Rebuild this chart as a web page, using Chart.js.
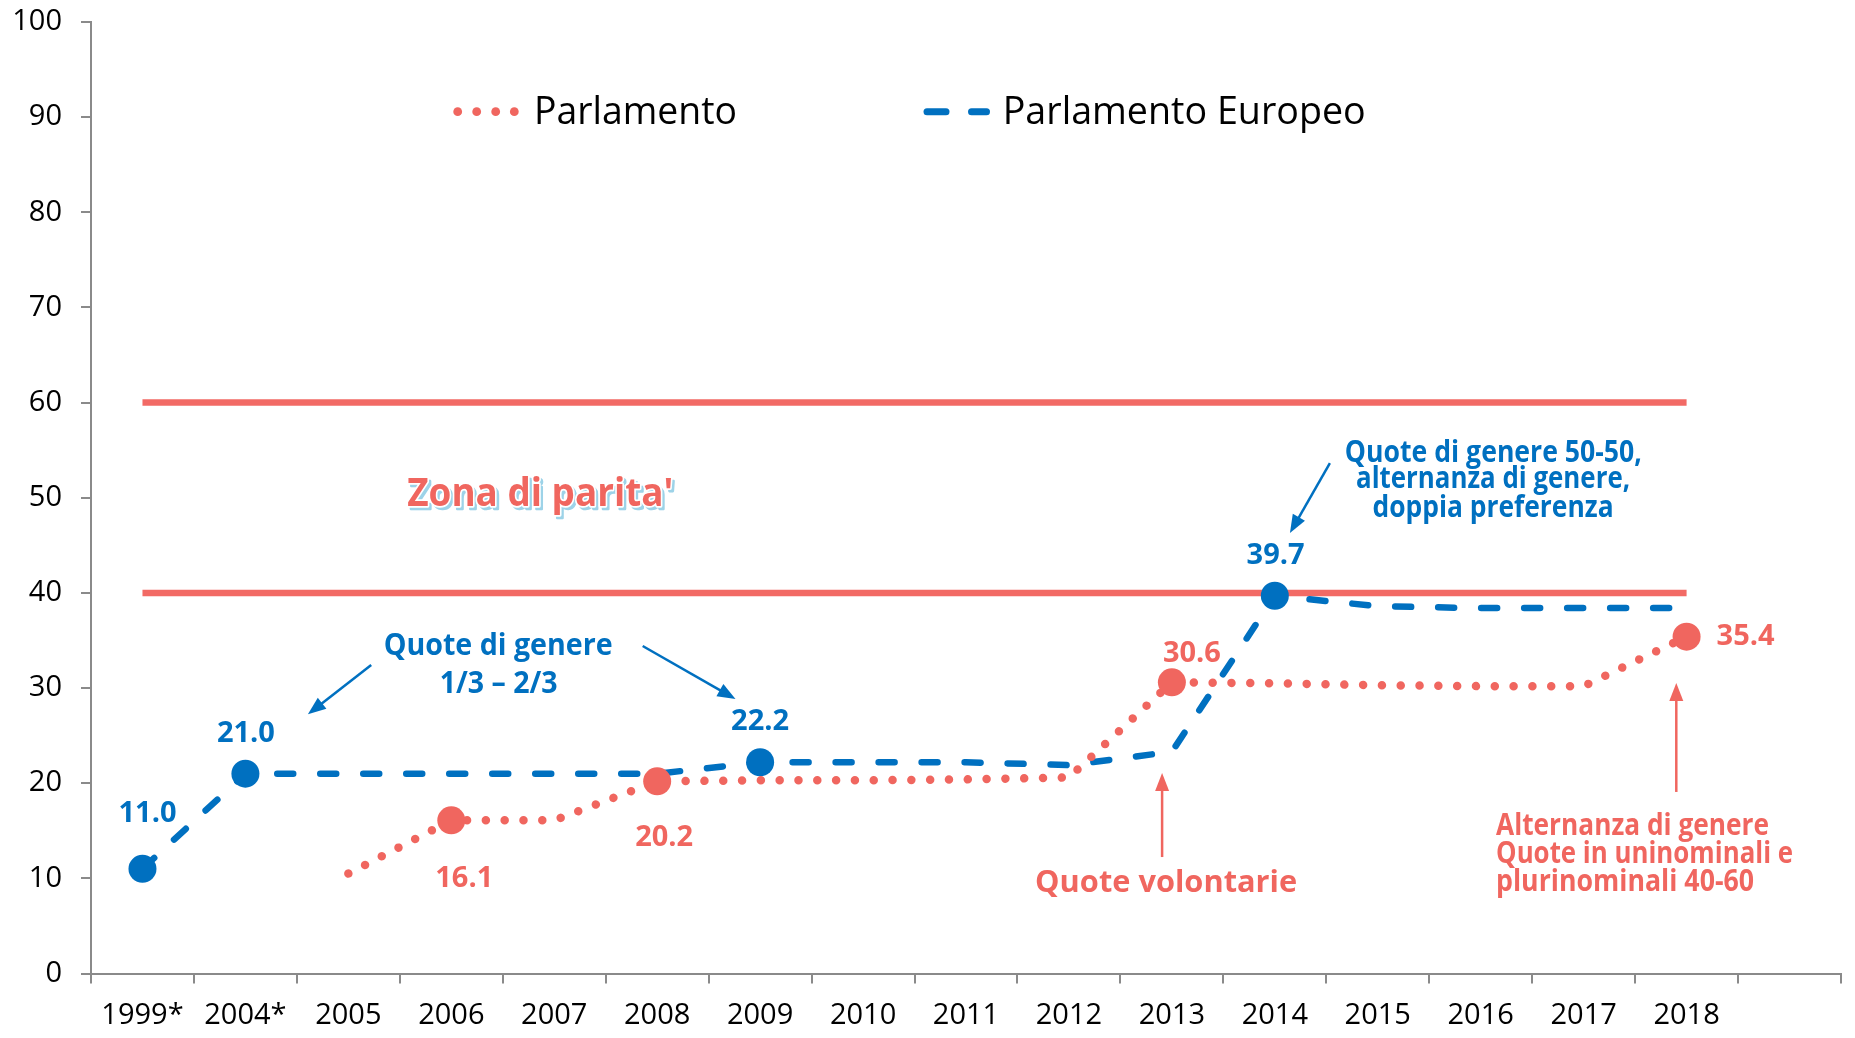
<!DOCTYPE html>
<html>
<head>
<meta charset="utf-8">
<script src="https://cdn.jsdelivr.net/npm/chart.js@4.4.1/dist/chart.umd.min.js"></script>
<style>
  html, body { margin: 0; padding: 0; background: #ffffff; }
  #wrap { position: relative; width: 1855px; height: 1038px; }
</style>
</head>
<body>
<div id="wrap"><canvas id="chart" width="1855" height="1038"></canvas></div>
<script>
// ---------------- DATA ----------------
const categories = ['1999*', '2004*', '2005', '2006', '2007', '2008', '2009', '2010', '2011', '2012', '2013', '2014', '2015', '2016', '2017', '2018', ''];
const parlamento = [null, null, 10.5, 16.1, 16.1, 20.2, 20.3, 20.3, 20.4, 20.6, 30.6, 30.5, 30.3, 30.2, 30.2, 35.4, null];
const parlamentoEuropeo = [11.0, 21.0, 21.0, 21.0, 21.0, 21.0, 22.2, 22.2, 22.2, 21.9, 23.3, 39.7, 38.6, 38.4, 38.4, 38.4, null];
const zonaParitaMin = [40, 40, 40, 40, 40, 40, 40, 40, 40, 40, 40, 40, 40, 40, 40, 40, null];
const zonaParitaMax = [60, 60, 60, 60, 60, 60, 60, 60, 60, 60, 60, 60, 60, 60, 60, 60, null];
const parlamentoMarked = [3, 5, 10, 15];          // indices with a marker + value label
const parlamentoEuropeoMarked = [0, 1, 6, 11];
const yMin = 0, yMax = 100, yStep = 10;
const legendLabels = ['Parlamento', 'Parlamento Europeo'];

// ---------------- STYLE ----------------
const BLUE = '#0070C0';
const RED = '#F0665F';
const REDLINE = '#F26A65';
const AXIS = '#8A8A8A';
const FONT = '"Open Sans", "Noto Sans", sans-serif';

// value-label offsets (px) relative to the point
const blueLabelOffsets = { 0: [5, -47], 1: [0.5, -32], 6: [0, -32], 11: [0.8, -32] };
const redLabelOffsets  = { 3: [13, 67], 5: [7, 65], 10: [20, -20.6], 15: [59, 8.3] };

// annotations in data units (category index, value)
const blueNotes = [
  { t: 'Quote di genere', i: 3.455, v: 33.47, w: 229, align: 'center' },
  { t: '1/3 \u2013 2/3', i: 3.46, v: 29.45, w: 118, align: 'center' },
  { t: 'Quote di genere 50-50,', i: 13.123, v: 53.79, w: 297, align: 'center' },
  { t: 'alternanza di genere,', i: 13.12, v: 51.02, w: 274, align: 'center' },
  { t: 'doppia preferenza', i: 13.12, v: 48.01, w: 241, align: 'center' }
];
const redNotes = [
  { t: 'Quote volontarie', i: 9.944, v: 8.6, w: 262, align: 'center' },
  { t: 'Alternanza di genere', i: 13.149, v: 14.56, w: 273, align: 'left' },
  { t: 'Quote in uninominali e', i: 13.149, v: 11.61, w: 297, align: 'left' },
  { t: 'plurinominali 40-60', i: 13.149, v: 8.67, w: 258, align: 'left' }
];
const blueArrows = [
  { from: [2.222, 32.42], to: [1.607, 27.24] },
  { from: [4.859, 34.42], to: [5.761, 28.85] },
  { from: [11.535, 53.65], to: [11.147, 46.3] }
];
const redArrows = [
  { from: [9.905, 12.24], to: [9.905, 21.07] },
  { from: [14.9, 19.08], to: [14.9, 30.53] }
];
const zonaText = { t: "Zona di parita'", i: 2.572, v: 49.16, w: 266 };

function radii(marked, n) {
  const r = [];
  for (let k = 0; k < n; k++) r.push(marked.includes(k) ? 14 : 0);
  return r;
}

function fitText(ctx, text, x, y, w, align) {
  const m = ctx.measureText(text).width;
  const s = w / m;
  ctx.save();
  ctx.translate(x, y);
  ctx.scale(s, 1);
  ctx.textAlign = align;
  ctx.fillText(text, 0, 0);
  ctx.restore();
}

function arrow(ctx, x1, y1, x2, y2, color) {
  const ang = Math.atan2(y2 - y1, x2 - x1);
  const L = 18, H = 7;
  ctx.save();
  ctx.strokeStyle = color; ctx.fillStyle = color;
  ctx.lineWidth = 2.5;
  ctx.beginPath();
  ctx.moveTo(x1, y1);
  ctx.lineTo(x2 - Math.cos(ang) * (L - 2), y2 - Math.sin(ang) * (L - 2));
  ctx.stroke();
  ctx.beginPath();
  ctx.moveTo(x2, y2);
  ctx.lineTo(x2 - Math.cos(ang) * L - Math.sin(ang) * H, y2 - Math.sin(ang) * L + Math.cos(ang) * H);
  ctx.lineTo(x2 - Math.cos(ang) * L + Math.sin(ang) * H, y2 - Math.sin(ang) * L - Math.cos(ang) * H);
  ctx.closePath();
  ctx.fill();
  ctx.restore();
}

const overlayPlugin = {
  id: 'overlay',
  afterDatasetsDraw(chart) {
    const ctx = chart.ctx;
    const xs = chart.scales.x, ys = chart.scales.y;
    const px = i => xs.getPixelForValue(i);
    const py = v => ys.getPixelForValue(v);
    ctx.save();
    ctx.textBaseline = 'alphabetic';

    // value labels
    ctx.font = 'bold 29px ' + FONT;
    ctx.textAlign = 'center';
    const specs = [
      { ds: 0, offs: blueLabelOffsets, color: BLUE, data: parlamentoEuropeo },
      { ds: 1, offs: redLabelOffsets, color: RED, data: parlamento }
    ];
    for (const s of specs) {
      const meta = chart.getDatasetMeta(s.ds);
      ctx.fillStyle = s.color;
      for (const k of Object.keys(s.offs)) {
        const pt = meta.data[+k];
        const [dx, dy] = s.offs[k];
        ctx.fillText(s.data[+k].toFixed(1), pt.x + dx, pt.y + dy);
      }
    }

    // annotation texts
    ctx.font = 'bold 30.5px ' + FONT;
    ctx.fillStyle = BLUE;
    for (const n of blueNotes) fitText(ctx, n.t, px(n.i), py(n.v), n.w, n.align);
    ctx.fillStyle = RED;
    for (const n of redNotes) fitText(ctx, n.t, px(n.i), py(n.v), n.w, n.align);

    for (const a of blueArrows) arrow(ctx, px(a.from[0]), py(a.from[1]), px(a.to[0]), py(a.to[1]), BLUE);
    for (const a of redArrows) arrow(ctx, px(a.from[0]), py(a.from[1]), px(a.to[0]), py(a.to[1]), RED);

    // Zona di parita' with white outline and light-blue shadow
    ctx.font = 'bold 40px ' + FONT;
    const zx = px(zonaText.i), zy = py(zonaText.v);
    const m = ctx.measureText(zonaText.t).width;
    const s = zonaText.w / m;
    ctx.save();
    ctx.translate(zx, zy);
    ctx.scale(s, 1);
    ctx.textAlign = 'left';
    ctx.lineJoin = 'round';
    ctx.fillStyle = '#9DD3E8'; ctx.strokeStyle = '#9DD3E8'; ctx.lineWidth = 2.5;
    ctx.strokeText(zonaText.t, 3, 3); ctx.fillText(zonaText.t, 3, 3);
    ctx.strokeStyle = '#ffffff'; ctx.lineWidth = 3.5;
    ctx.strokeText(zonaText.t, 0, 0);
    ctx.fillStyle = RED;
    ctx.fillText(zonaText.t, 0, 0);
    ctx.restore();

    // legend
    ctx.fillStyle = RED;
    for (const cx of [457.7, 476.7, 495.7, 514.3]) {
      ctx.beginPath(); ctx.arc(cx, 111.7, 4.4, 0, Math.PI * 2); ctx.fill();
    }
    ctx.strokeStyle = BLUE; ctx.lineWidth = 7; ctx.lineCap = 'round';
    ctx.beginPath(); ctx.moveTo(927, 111.7); ctx.lineTo(946, 111.7); ctx.stroke();
    ctx.beginPath(); ctx.moveTo(971.5, 111.7); ctx.lineTo(986.5, 111.7); ctx.stroke();
    ctx.fillStyle = '#000000';
    ctx.font = '39px ' + FONT;
    fitText(ctx, legendLabels[0], 534, 124.3, 203, 'left');
    fitText(ctx, legendLabels[1], 1002.7, 124.3, 363, 'left');
    ctx.restore();
  }
};

const chart = new Chart(document.getElementById('chart'), {
  type: 'line',
  data: {
    labels: categories,
    datasets: [
      {
        label: legendLabels[1],
        data: parlamentoEuropeo,
        borderColor: BLUE, backgroundColor: BLUE,
        borderWidth: 6.5, borderDash: [16, 27], borderCapStyle: 'round',
        pointRadius: radii(parlamentoEuropeoMarked, categories.length),
        pointHoverRadius: radii(parlamentoEuropeoMarked, categories.length),
        pointBackgroundColor: BLUE, pointBorderWidth: 0,
        tension: 0, fill: false, order: 1
      },
      {
        label: legendLabels[0],
        data: parlamento,
        borderColor: RED, backgroundColor: RED,
        borderWidth: 8.5, borderDash: [0.01, 18.8], borderCapStyle: 'round',
        pointRadius: radii(parlamentoMarked, categories.length),
        pointHoverRadius: radii(parlamentoMarked, categories.length),
        pointBackgroundColor: RED, pointBorderWidth: 0,
        tension: 0, fill: false, order: 0
      },
      {
        label: 'min', data: zonaParitaMin,
        borderColor: REDLINE, borderWidth: 6.5, pointRadius: 0, fill: false, order: 2
      },
      {
        label: 'max', data: zonaParitaMax,
        borderColor: REDLINE, borderWidth: 6.5, pointRadius: 0, fill: false, order: 2
      }
    ]
  },
  options: {
    responsive: false,
    animation: false,
    events: [],
    layout: { padding: { top: 22, right: 14, left: 0, bottom: 0 } },
    plugins: { legend: { display: false }, tooltip: { enabled: false } },
    scales: {
      x: {
        type: 'category',
        offset: true,
        grid: { display: true, drawOnChartArea: false, drawTicks: true, tickLength: 10, color: AXIS, lineWidth: 2, offset: true },
        border: { display: true, color: AXIS, width: 2 },
        ticks: { color: '#000', font: { family: FONT, size: 29 }, padding: 15, maxRotation: 0, autoSkip: false },
        afterFit: s => { s.height = 64.5; s.paddingLeft = 0; s.paddingRight = 0; }
      },
      y: {
        min: yMin, max: yMax,
        grid: { display: true, drawOnChartArea: false, drawTicks: true, tickLength: 10, color: AXIS, lineWidth: 2 },
        border: { display: true, color: AXIS, width: 2 },
        ticks: { stepSize: yStep, color: '#000', font: { family: FONT, size: 29 }, padding: 19 },
        afterFit: s => { s.width = 91; s.paddingTop = 0; s.paddingBottom = 0; }
      }
    }
  },
  plugins: [overlayPlugin]
});
</script>
</body>
</html>
